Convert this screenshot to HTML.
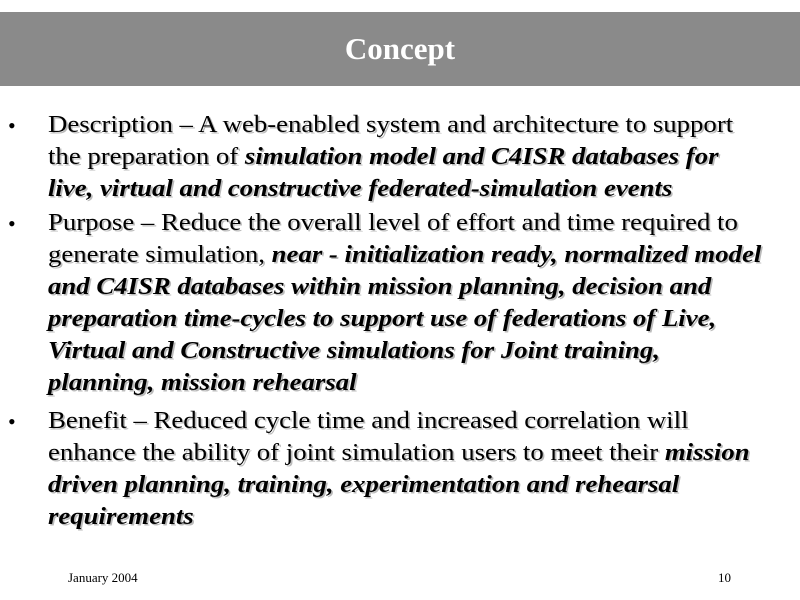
<!DOCTYPE html>
<html><head><style>
body{margin:0;width:800px;height:600px;background:#fff;position:relative;overflow:hidden;font-family:"Liberation Serif",serif;}
.hdr{position:absolute;left:0;top:12px;width:800px;height:74px;background:#8a8a8a;}
.ttl{position:absolute;left:0;top:31px;width:800px;text-align:center;color:#fff;font-weight:bold;font-size:31px;line-height:36px;}
.l{position:absolute;left:48px;font-size:24px;line-height:30px;color:#000;white-space:nowrap;text-shadow:1.5px 1.5px 0 #bbb;transform:scaleX(1.115);transform-origin:0 0;}
.b{position:absolute;left:8px;font-size:22px;line-height:30px;}
i{font-weight:bold;}
.f{position:absolute;top:570px;font-size:13px;}
</style></head><body>
<div class="hdr"></div>
<div class="ttl">Concept</div>
<div class="b" style="top:111px">•</div>
<div class="l" style="top:110px">Description – A web-enabled system and architecture to support</div>
<div class="l" style="top:142px">the preparation of <i>simulation model and C4ISR databases for</i></div>
<div class="l" style="top:174px"><i>live, virtual and constructive federated-simulation events</i></div>
<div class="b" style="top:209px">•</div>
<div class="l" style="top:208px">Purpose – Reduce the overall level of effort and time required to</div>
<div class="l" style="top:240px">generate simulation, <i>near - initialization ready, normalized model</i></div>
<div class="l" style="top:272px"><i>and C4ISR databases within mission planning, decision and</i></div>
<div class="l" style="top:304px"><i>preparation time-cycles to support use of federations of Live,</i></div>
<div class="l" style="top:336px"><i>Virtual and Constructive simulations for Joint training,</i></div>
<div class="l" style="top:368px"><i>planning, mission rehearsal</i></div>
<div class="b" style="top:407px">•</div>
<div class="l" style="top:406px">Benefit – Reduced cycle time and increased correlation will</div>
<div class="l" style="top:438px">enhance the ability of joint simulation users to meet their <i>mission</i></div>
<div class="l" style="top:470px"><i>driven planning, training, experimentation and rehearsal</i></div>
<div class="l" style="top:502px"><i>requirements</i></div>
<div class="f" style="left:68px">January 2004</div>
<div class="f" style="left:718px">10</div>
</body></html>
